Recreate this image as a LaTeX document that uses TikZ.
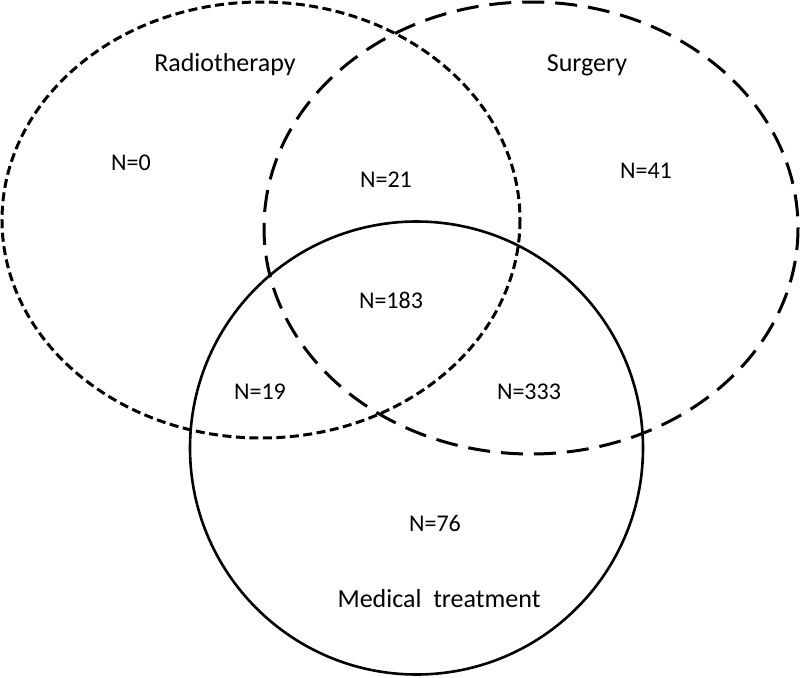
\documentclass[tikz,border=0pt]{standalone}
\usepackage{fontspec}
\setmainfont{Carlito}
\begin{document}
\begin{tikzpicture}[x=1pt,y=-1pt,
    radio/.style={line width=3pt,dash pattern=on 9pt off 4.5pt},
    surg/.style={line width=3pt,dash pattern=on 22pt off 11pt},
    medic/.style={line width=2.6pt},
    setname/.style={font=\fontsize{26}{30}\selectfont},
    count/.style={font=\fontsize{24}{28}\selectfont}]
      \useasboundingbox (0,0) rectangle (800,677);
      \draw[radio] (261,220) ellipse [x radius=259,y radius=218];
      \draw[surg] (531,228) ellipse [x radius=267,y radius=226];
      \draw[medic] (416.5,448) circle [radius=226.5];
      \node[setname] (radio) at (225,65) {Radiotherapy};
      \node[setname] (surgery) at (587,65) {Surgery};
      \node[setname] (medical) at (439,599) {Medical~~treatment};
      \node[count] (nr) at (131,163) {N=0};
      \node[count] (nrs) at (386,180) {N=21};
      \node[count] (ns) at (646,171) {N=41};
      \node[count] (nall) at (391,300) {N=183};
      \node[count] (nrm) at (260,392) {N=19};
      \node[count] (nsm) at (529,392) {N=333};
      \node[count] (nm) at (435,523) {N=76};
\end{tikzpicture}
\end{document}
